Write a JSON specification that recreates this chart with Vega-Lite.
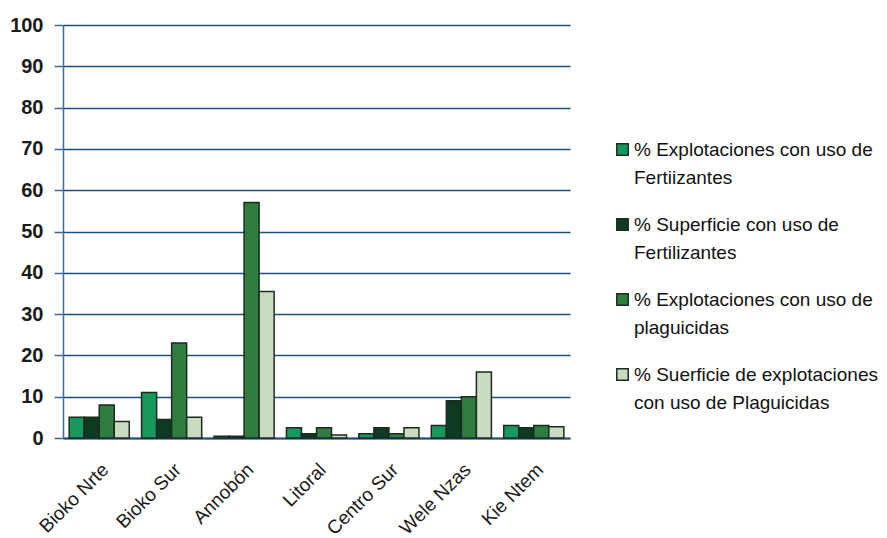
{
  "$schema": "https://vega.github.io/schema/vega-lite/v6.json",
  "width": 507,
  "height": 413,
  "autosize": "none",
  "padding": {"left": 63, "top": 25, "right": 317, "bottom": 100},
  "background": "white",
  "config": {"view": {"stroke": null}, "font": "Liberation Sans"},
  "data": {"values": [
    {"region": "Bioko Nrte", "serie": "A", "valor": 5},
    {"region": "Bioko Nrte", "serie": "B", "valor": 5},
    {"region": "Bioko Nrte", "serie": "C", "valor": 8},
    {"region": "Bioko Nrte", "serie": "D", "valor": 4},
    {"region": "Bioko Sur", "serie": "A", "valor": 11},
    {"region": "Bioko Sur", "serie": "B", "valor": 4.5},
    {"region": "Bioko Sur", "serie": "C", "valor": 23},
    {"region": "Bioko Sur", "serie": "D", "valor": 5},
    {"region": "Annobón", "serie": "A", "valor": 0.4},
    {"region": "Annobón", "serie": "B", "valor": 0.4},
    {"region": "Annobón", "serie": "C", "valor": 57},
    {"region": "Annobón", "serie": "D", "valor": 35.5},
    {"region": "Litoral", "serie": "A", "valor": 2.5},
    {"region": "Litoral", "serie": "B", "valor": 1},
    {"region": "Litoral", "serie": "C", "valor": 2.5},
    {"region": "Litoral", "serie": "D", "valor": 0.7},
    {"region": "Centro Sur", "serie": "A", "valor": 1},
    {"region": "Centro Sur", "serie": "B", "valor": 2.5},
    {"region": "Centro Sur", "serie": "C", "valor": 1},
    {"region": "Centro Sur", "serie": "D", "valor": 2.5},
    {"region": "Wele Nzas", "serie": "A", "valor": 3},
    {"region": "Wele Nzas", "serie": "B", "valor": 9},
    {"region": "Wele Nzas", "serie": "C", "valor": 10},
    {"region": "Wele Nzas", "serie": "D", "valor": 16},
    {"region": "Kie Ntem", "serie": "A", "valor": 3},
    {"region": "Kie Ntem", "serie": "B", "valor": 2.5},
    {"region": "Kie Ntem", "serie": "C", "valor": 3},
    {"region": "Kie Ntem", "serie": "D", "valor": 2.7}
  ]},
  "mark": {"type": "bar", "stroke": "#1c2a22", "strokeWidth": 1.5},
  "encoding": {
    "x": {
      "field": "region", "type": "nominal", "sort": null, "title": null,
      "scale": {"paddingInner": 0.17, "paddingOuter": 0.085},
      "axis": {"labelAngle": -45, "labelFontSize": 19, "labelColor": "#1a1a1a", "ticks": false, "domainColor": "#1f4e79", "domainWidth": 2, "labelPadding": 22}
    },
    "xOffset": {"field": "serie", "type": "nominal", "sort": ["A", "B", "C", "D"]},
    "y": {
      "field": "valor", "type": "quantitative", "title": null,
      "scale": {"domain": [0, 100]},
      "axis": {"values": [0,10,20,30,40,50,60,70,80,90,100], "labelFontSize": 20, "labelFontWeight": "bold", "labelColor": "#1a1a1a", "grid": true, "gridColor": "#1f4e79", "gridWidth": 1.6, "domainColor": "#3a6a96", "domainWidth": 1.5, "tickColor": "#3a6a96", "tickSize": 9, "tickWidth": 1.5, "labelPadding": 11}
    },
    "color": {
      "field": "serie", "type": "nominal",
      "scale": {"domain": ["A", "B", "C", "D"], "range": ["#17995e", "#0f3a22", "#2f7d3f", "#c9dcc2"]},
      "legend": {
        "title": null, "orient": "none", "legendX": 550, "legendY": 115,
        "symbolType": "square", "symbolSize": 130, "symbolStrokeColor": "#1c2a22", "symbolStrokeWidth": 1.5,
        "labelFontSize": 19, "labelColor": "#111", "labelLimit": 400, "rowPadding": 27, "labelOffset": 2,
        "labelExpr": "datum.label == 'A' ? ['% Explotaciones con uso de', 'Fertiizantes'] : datum.label == 'B' ? ['% Superficie con uso de', 'Fertilizantes'] : datum.label == 'C' ? ['% Explotaciones con uso de', 'plaguicidas'] : ['% Suerficie de explotaciones', 'con uso de Plaguicidas']",
        "encode": {"labels": {"update": {"lineHeight": {"value": 28.5}}}}
      }
    }
  }
}
